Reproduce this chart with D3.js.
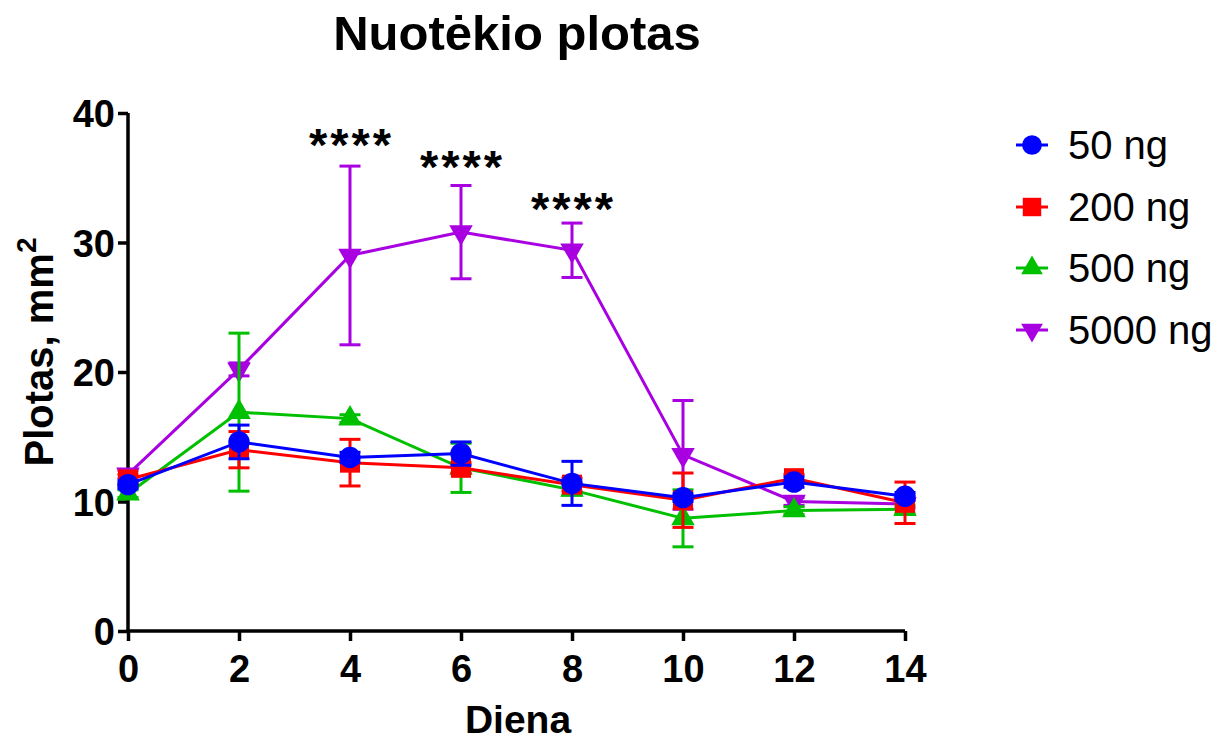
<!DOCTYPE html>
<html><head><meta charset="utf-8">
<script src="https://cdn.jsdelivr.net/npm/d3@7"></script>
<style>body{margin:0;background:#fff}svg{display:block;font-family:"Liberation Sans",Arial,sans-serif}</style>
</head><body>
<svg id="c" width="1217" height="740"></svg>
<script>
const days = [0, 2, 4, 6, 8, 10, 12, 14];
const seriesNames = ["50 ng", "200 ng", "500 ng", "5000 ng"];
const colors = ["#0000ff", "#ff0000", "#00c000", "#a800e0"];
const mean50 = [11.3, 14.6, 13.4, 13.7, 11.4, 10.3, 11.5, 10.4];
const sd50 = [0.3, 1.3, 0.4, 0.9, 1.7, 0.3, 0.4, 0.3];
const mean200 = [11.7, 14.0, 13.0, 12.6, 11.3, 10.1, 11.8, 9.9];
const sd200 = [0.4, 1.4, 1.8, 0.4, 0.5, 2.1, 0.3, 1.6];
const mean500 = [10.6, 16.9, 16.4, 12.6, 10.9, 8.7, 9.3, 9.4];
const sd500 = [0.3, 6.1, 0.3, 1.9, 0.4, 2.2, 0.3, 0.3];
const mean5000 = [12.1, 20.2, 29.0, 30.8, 29.4, 13.6, 10.0, 9.8];
const sd5000 = [0.3, 0.5, 6.9, 3.6, 2.1, 4.2, 0.3, 0.3];
const yTicks = [0, 10, 20, 30, 40];
const xTicks = [0, 2, 4, 6, 8, 10, 12, 14];
const sigDays = [4, 6, 8];
const sigLabels = ["****", "****", "****"];
const sigHeights = [36.3, 34.6, 31.35];

const means = [mean50, mean200, mean500, mean5000];
const sds = [sd50, sd200, sd500, sd5000];
const symbols = [d3.symbolCircle, d3.symbolSquare, d3.symbolTriangle, d3.symbolTriangle];
const symSizes = [360, 400, 240, 240];
const rotations = [0, 0, 0, 180];

const svg = d3.select("#c");
const x = d3.scaleLinear().domain([0, 14]).range([128, 905]);
const y = d3.scaleLinear().domain([0, 40]).range([631, 113]);

// title
svg.append("text").attr("x", 517).attr("y", 50).attr("text-anchor", "middle")
  .attr("font-size", 49).attr("font-weight", "bold").text("Nuotėkio plotas");

// axes
const yAxis = svg.append("g").attr("transform", `translate(${x(0)},0)`)
  .call(d3.axisLeft(y).tickValues(yTicks).tickSize(10).tickSizeOuter(0));
const xAxis = svg.append("g").attr("transform", `translate(0,${y(0)})`)
  .call(d3.axisBottom(x).tickValues(xTicks).tickSize(10).tickSizeOuter(0));
[yAxis, xAxis].forEach(g => {
  g.select(".domain").attr("stroke", "#000").attr("stroke-width", 3.5);
  g.selectAll(".tick line").attr("stroke", "#000").attr("stroke-width", 3.5);
  g.selectAll(".tick text").attr("font-size", 38).attr("font-weight", "bold")
    .attr("fill", "#000").attr("font-family", "'Liberation Sans',Arial,sans-serif");
});
yAxis.select(".domain").attr("d", `M0,${y(40)}V${y(0) + 1.75}`);
xAxis.select(".domain").attr("d", `M${x(0) - 1.75},0H${x(14)}`);
xAxis.selectAll(".tick text").attr("dy", null).attr("y", 51);
yAxis.selectAll(".tick text").attr("x", -13).attr("dy", "0.36em");

// axis titles
svg.append("text").attr("x", 518).attr("y", 733).attr("text-anchor", "middle")
  .attr("font-size", 39).attr("font-weight", "bold").text("Diena");
const yl = svg.append("text").attr("transform", "translate(53,352) rotate(-90)")
  .attr("text-anchor", "middle").attr("font-size", 40).attr("font-weight", "bold");
yl.append("tspan").text("Plotas, mm");
yl.append("tspan").attr("dy", -17).attr("font-size", 28).text("2");

// series: draw 5000 first, 50 last
const order = [3, 2, 1, 0];
const line = d3.line().x((d, i) => x(days[i])).y(d => y(d));
order.forEach(s => {
  const g = svg.append("g");
  const c = colors[s];
  means[s].forEach((m, i) => {
    const e = sds[s][i];
    const cx = x(days[i]);
    g.append("line").attr("x1", cx).attr("x2", cx).attr("y1", y(m - e)).attr("y2", y(m + e))
      .attr("stroke", c).attr("stroke-width", 3);
    [m - e, m + e].forEach(v => g.append("line").attr("x1", cx - 10.5).attr("x2", cx + 10.5)
      .attr("y1", y(v)).attr("y2", y(v)).attr("stroke", c).attr("stroke-width", 3));
  });
  g.append("path").attr("d", line(means[s])).attr("fill", "none").attr("stroke", c).attr("stroke-width", 3);
  means[s].forEach((m, i) => {
    g.append("path").attr("d", d3.symbol().type(symbols[s]).size(symSizes[s])())
      .attr("transform", `translate(${x(days[i])},${y(m)}) rotate(${rotations[s]})`)
      .attr("fill", c);
  });
});

// significance stars
sigDays.forEach((d, i) => {
  svg.append("text").attr("x", x(d) + 1.5).attr("y", y(sigHeights[i])).attr("text-anchor", "middle")
    .attr("font-size", 47).attr("font-weight", "bold").attr("letter-spacing", 3)
    .text(sigLabels[i]);
});

// legend
const legY = [145, 207, 268, 330];
seriesNames.forEach((n, s) => {
  const g = svg.append("g").attr("transform", `translate(1032,${legY[s]})`);
  g.append("line").attr("x1", -16).attr("x2", 16).attr("stroke", colors[s]).attr("stroke-width", 3);
  g.append("path").attr("d", d3.symbol().type(symbols[s]).size(symSizes[s] * 0.85)())
    .attr("transform", `rotate(${rotations[s]})`).attr("fill", colors[s]);
  g.append("text").attr("x", 36).attr("y", 0).attr("dy", "0.36em").attr("font-size", 40).text(n);
});
</script>
</body></html>
